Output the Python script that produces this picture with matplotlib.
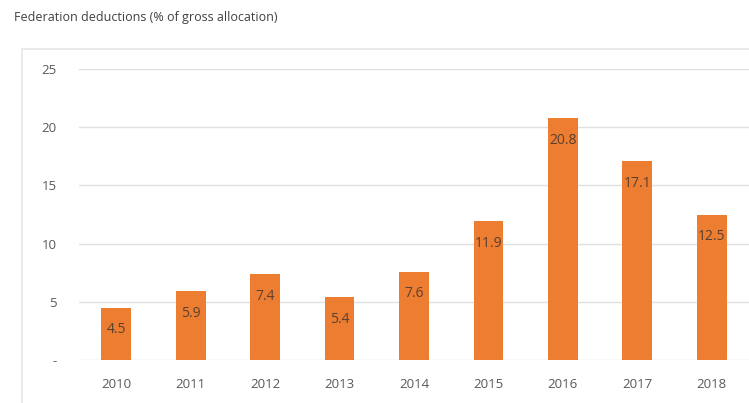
import matplotlib.pyplot as plt
from matplotlib.patches import Rectangle

#-------------------------------
# DATA
#-------------------------------
years = ["2010", "2011", "2012", "2013", "2014", "2015", "2016", "2017", "2018"]
deductions = [4.5, 5.9, 7.4, 5.4, 7.6, 11.9, 20.8, 17.1, 12.5]
y_ticks = [0, 5, 10, 15, 20, 25]
y_tick_labels = ["-", "5", "10", "15", "20", "25"]

bar_color = "#ED7D31"
text_grey = "#595959"
grid_grey = "#E0E0E0"

plt.rcParams['font.family'] = ['Open Sans', 'DejaVu Sans']

W, H = 749, 403
fig = plt.figure(figsize=(W / 100, H / 100), dpi=100)

# chart heading
fig.text(14 / W, 1 - 18 / H, "Federation deductions (% of gross allocation)",
         fontsize=9, color="#404040", va="center", ha="left")

# light frame around the chart area
fig.patches.append(Rectangle((22 / W, -0.01), 1.0, 1 - 49 / H + 0.01,
                             transform=fig.transFigure, fill=False,
                             edgecolor="#E6E6E6", linewidth=1.2))

#-------------------------------
# BAR CHART
#-------------------------------
left, right = 79, 749
top, bottom = 69, 360
ax = fig.add_axes([left / W, 1 - bottom / H, (right - left) / W, (bottom - top) / H])

x = range(len(years))
ax.bar(x, deductions, width=0.4, color=bar_color, zorder=3)

for xi, v in zip(x, deductions):
    ax.annotate(f"{v:.1f}", (xi, v), xytext=(0, -16), textcoords="offset points",
                ha="center", va="center", fontsize=10, color="#5A4030", zorder=4)

ax.set_xlim(-0.5, len(years) - 0.5)
ax.set_ylim(0, 25)
ax.set_yticks(y_ticks)
ax.set_yticklabels(y_tick_labels)
ax.set_xticks(list(x))
ax.set_xticklabels(years)

ax.yaxis.grid(True, color=grid_grey, linewidth=1)
ax.set_axisbelow(True)
for s in ax.spines.values():
    s.set_visible(False)

ax.tick_params(axis="both", length=0, labelsize=9.5, colors=text_grey)
ax.tick_params(axis="y", pad=16)
ax.tick_params(axis="x", pad=13)

fig.savefig("out.png", dpi=100, facecolor="white")
